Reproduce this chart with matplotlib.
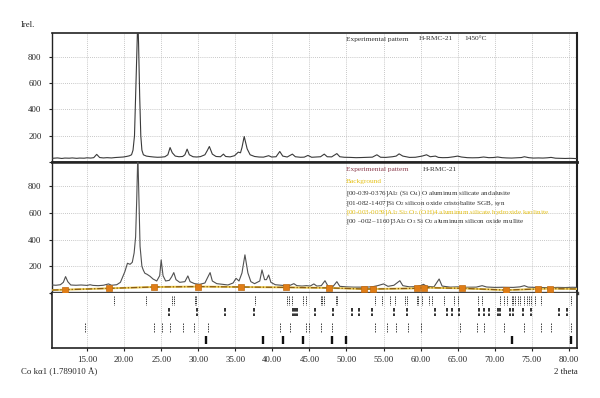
import matplotlib
matplotlib.use("Agg")
import matplotlib.pyplot as plt

plt.rcParams['font.family'] = ['Liberation Serif', 'DejaVu Serif']
plt.rcParams['mathtext.fontset'] = 'custom'
plt.rcParams['mathtext.rm'] = 'Liberation Serif'
plt.rcParams['mathtext.it'] = 'Liberation Serif:italic'

# ---------------- data ----------------
top_x = [10.3, 11.0, 11.6, 12.0, 12.6, 13.0, 13.6, 14.0, 14.6, 15.0, 15.5, 15.9, 16.3, 16.7, 17.2,
         17.7, 18.3, 18.8, 19.4, 19.9, 20.3, 20.7, 21.0, 21.2, 21.4, 21.6, 21.75, 21.85, 21.95,
         22.1, 22.25, 22.4, 22.6, 23.0, 23.5, 24.0, 24.5, 25.0, 25.5, 25.9, 26.2, 26.5, 26.9,
         27.4, 27.9, 28.2, 28.5, 28.8, 29.3, 29.8, 30.3, 30.9, 31.2, 31.5, 31.9, 32.4, 33.0,
         33.4, 33.7, 34.3, 34.9, 35.4, 35.7, 35.9, 36.2, 36.6, 37.0, 37.6, 38.2, 38.8, 39.5,
         39.9, 40.5, 41.0, 41.4, 42.0, 42.7, 43.1, 43.8, 44.3, 44.8, 45.3, 45.9, 46.5, 47.0,
         47.4, 48.0, 48.7, 49.1, 49.7, 50.5, 51.3, 52.0, 52.8, 53.5, 54.1, 54.6, 55.3, 56.2,
         56.7, 57.1, 57.6, 58.5, 59.3, 60.2, 60.8, 61.3, 62.0, 62.4, 63.0, 63.7, 64.5, 65.0,
         65.5, 66.3, 67.0, 67.8, 68.5, 69.2, 69.8, 70.4, 71.0, 71.6, 72.3, 73.0, 73.6, 74.0,
         74.6, 75.2, 75.9, 76.5, 77.1, 77.6, 78.2, 78.8, 79.5, 80.2, 81.1]
top_y = [28, 31, 27, 30, 29, 31, 28, 30, 29, 32, 30, 33, 58, 34, 31,
         33, 31, 34, 36, 38, 42, 47, 55, 90, 200, 600, 900, 1100, 900,
         500, 200, 90, 55, 45, 41, 38, 36, 37, 40, 55, 110, 70, 45,
         40, 42, 55, 98, 55, 40, 38, 41, 55, 85, 118, 60, 42, 40,
         60, 42, 39, 48, 75, 70, 110, 194, 100, 55, 42, 38, 37, 48,
         38, 40, 80, 45, 38, 60, 40, 36, 37, 50, 36, 38, 40, 60,
         40, 39, 64, 40, 36, 35, 33, 34, 36, 37, 55, 36, 35, 40,
         45, 62, 45, 35, 36, 45, 55, 40, 45, 35, 33, 34, 40, 45,
         38, 33, 32, 33, 38, 33, 34, 38, 33, 31, 30, 32, 34, 40,
         33, 30, 31, 30, 32, 35, 29, 28, 27, 28, 26]

bot_x = [10.3, 10.8, 11.4, 11.8, 12.1, 12.4, 12.8, 13.5, 14.2, 15.0, 15.4, 15.8, 16.5, 17.2,
         17.9, 18.3, 19.0, 19.5, 19.8, 20.1, 20.45, 20.8, 21.1, 21.35, 21.55, 21.7, 21.85, 22.0,
         22.15, 22.4, 22.6, 22.8, 23.1, 23.5, 23.9, 24.4, 24.8, 25.0, 25.25, 25.6, 26.1, 26.4,
         26.7, 27.0, 27.5, 28.2, 28.6, 28.9, 29.5, 30.2, 30.9, 31.3, 31.6, 31.9, 32.5, 33.3,
         34.0, 34.7, 35.1, 35.5, 35.9, 36.3, 36.7, 37.1, 37.6, 38.3, 38.6, 38.95, 39.2, 39.5,
         39.8, 40.4, 41.2, 41.8, 42.4, 42.9, 43.3, 44.0, 44.6, 45.1, 45.6, 46.0, 46.6, 47.1,
         47.5, 48.2, 48.7, 49.1, 50.0, 51.0, 52.0, 53.0, 53.6, 54.2, 55.0, 55.6, 56.4, 57.2,
         57.6, 58.5, 59.5, 60.0, 60.4, 60.8, 61.8, 62.5, 62.9, 64.0, 65.0, 66.0, 67.5, 68.3,
         68.9, 70.0, 71.0, 72.5, 73.4, 74.0, 74.5, 75.5, 76.5, 77.5, 78.5, 79.5, 80.5, 81.1]
bot_y = [60, 58, 62, 80, 123, 85, 60, 58, 60, 57, 62, 57, 55, 58,
         68, 58, 62, 80, 120, 160, 223, 215, 230, 300, 420, 700, 1050, 700,
         350, 200, 170, 148, 140, 125, 105, 90, 130, 248, 130, 90, 95, 120,
         153, 100, 80, 85, 128, 85, 70, 65, 75, 120, 153, 90, 70, 65,
         60, 75, 110, 90, 150, 286, 150, 85, 70, 90, 173, 100, 100, 135,
         80, 62, 58, 55, 58, 70, 55, 52, 55, 52, 68, 52, 55, 92,
         52, 50, 85, 50, 46, 44, 44, 45, 48, 55, 68, 50, 58, 92,
         55, 46, 48, 55, 65, 50, 46, 105, 52, 44, 46, 43, 44, 55,
         45, 42, 43, 42, 46, 55, 44, 42, 41, 40, 42, 41, 43, 42]

bg_x = [10.3, 12.0, 18.0, 24.0, 30.0, 35.8, 41.8, 47.7, 52.3, 53.6, 59.5, 60.5, 65.6, 71.5, 75.8, 77.4, 81.1]
bg_y = [22, 25, 35, 45, 48, 45, 42, 38, 30, 30, 35, 40, 35, 22, 30, 33, 30]

andalusite = [18.7, 22.9, 26.4, 26.7, 29.6, 29.75, 37.7, 42.0, 42.3, 42.6, 44.2, 44.6, 46.5,
              46.7, 46.9, 48.55, 48.75, 53.9, 54.8, 55.85, 56.5, 57.9, 58.1, 59.5, 59.65, 60.2,
              61.2, 61.5, 63.1, 64.5, 65.0, 67.7, 68.3, 70.7, 71.2, 71.7, 72.3, 72.5, 72.8,
              73.1, 73.4, 74.0, 74.4, 74.6, 74.9, 75.5, 76.3, 80.3]
cristobalite = [26.05, 29.85, 33.65, 37.5, 42.8, 43.05, 43.3, 45.7, 48.15, 50.8, 51.7, 53.5,
                56.4, 58.1, 62.0, 63.6, 64.3, 65.2, 67.9, 68.5, 69.2, 70.4, 70.7, 72.1, 72.5,
                73.8, 74.9, 78.7, 79.8]
kaolinite = [14.7, 24.05, 25.1, 26.2, 28.0, 29.45, 31.3, 41.05, 42.4, 44.55, 44.95, 46.6,
             48.1, 53.8, 55.45, 56.7, 58.3, 60.1, 65.3, 67.65, 68.6, 71.2, 73.9, 76.25, 77.6, 80.25]
mullite = [31.05, 38.7, 41.45, 44.15, 48.1, 49.97, 72.3, 80.25]

x_ticks = [15, 20, 25, 30, 35, 40, 45, 50, 55, 60, 65, 70, 75, 80]
x_ticklabels = ['%.2f' % v for v in x_ticks]
y_ticks = [0, 200, 400, 600, 800]
y_ticklabels = ['', '200', '400', '600', '800']

# ---------------- figure ----------------
W, H = 600, 398
fig = plt.figure(figsize=(6, 3.98), dpi=100)

left, width = 52 / W, 525 / W
ax1 = fig.add_axes([left, 1 - 162 / H, width, 129 / H])
ax2 = fig.add_axes([left, 1 - 293 / H, width, 131 / H])
ax3 = fig.add_axes([left, 1 - 348 / H, width, 55 / H])

XL = (10.27, 81.1)
curve_c = '#3a3a3a'
grid_kw = dict(color='#b5b5b5', linestyle=(0, (1, 1.5)), linewidth=0.6)

for ax in (ax1, ax2):
    ax.set_xlim(*XL)
    ax.set_ylim(0, 982)
    ax.set_xticks(x_ticks)
    ax.tick_params(axis='x', length=0, labelbottom=False)
    ax.set_yticks(y_ticks)
    ax.set_yticklabels(y_ticklabels)
    ax.tick_params(axis='y', length=2.5, width=0.8, pad=5, labelsize=6.3, colors='#222')
    ax.grid(True, **grid_kw)
    ax.set_axisbelow(True)
    for s in ax.spines.values():
        s.set_color('#222')
        s.set_linewidth(1.0)

ax1.plot(top_x, top_y, color=curve_c, lw=0.8, zorder=3)
ax1.spines['bottom'].set_linewidth(1.8)
ax1.spines['top'].set_linewidth(1.2)
ax1.spines['right'].set_linewidth(1.5)

ax2.plot(bot_x, bot_y, color='#505050', lw=0.8, zorder=3)
ax2.plot(bg_x, bg_y, color='#e9c84e', lw=1.4, zorder=4)
ax2.plot(bg_x, bg_y, color='#8a5a10', lw=0.9, linestyle=(0, (5, 1.5, 1, 1.5)), zorder=5)
ax2.plot(bg_x[1:-1], bg_y[1:-1], linestyle='none', marker='s', markersize=4.3,
         markerfacecolor='#e07d16', markeredgecolor='#c06a10', markeredgewidth=0.5, zorder=6)
ax2.spines['top'].set_linewidth(1.8)
ax2.spines['bottom'].set_linewidth(2.4)
ax2.spines['bottom'].set_color('#444')
ax2.spines['right'].set_linewidth(1.5)

# stick patterns
ax3.set_xlim(*XL)
ax3.set_ylim(55, 0)
ax3.set_yticks([])
ax3.set_xticks(x_ticks)
ax3.set_xticklabels(x_ticklabels)
ax3.tick_params(axis='x', length=2.5, width=0.8, pad=3, labelsize=6.3, colors='#222')
ax3.grid(True, axis='x', **grid_kw)
ax3.set_axisbelow(True)
ax3.spines['top'].set_visible(False)
for k in ('left', 'bottom', 'right'):
    ax3.spines[k].set_color('#222')
    ax3.spines[k].set_linewidth(1.2)

ax3.vlines(andalusite, 3, 12, colors='#333', linewidth=0.7, linestyles=[(0, (1.3, 0.9))])
ax3.vlines(cristobalite, 15, 23, colors='#222', linewidth=1.3, linestyles=[(0, (2, 1))])
ax3.vlines(kaolinite, 30, 39, colors='#444', linewidth=0.7, linestyles=[(0, (1.6, 1))])
ax3.vlines(mullite, 43, 51, colors='#111', linewidth=1.7)

# ---------------- texts ----------------
def t(x, y, s, **kw):
    kw.setdefault('fontsize', 5.1)
    kw.setdefault('color', '#333')
    kw.setdefault('va', 'center')
    kw.setdefault('ha', 'left')
    fig.text(x / W, 1 - y / H, s, **kw)

t(21, 25, 'Irel.', fontsize=6.3, color='#222')
t(346, 39, 'Experimental pattern', fontsize=5.3)
t(419, 39, 'H-RMC-21', fontsize=5.3)
t(464, 39, '1450°C', fontsize=5.3)

t(346, 170, 'Experimental pattern', color='#8c3d4e', fontsize=5.3)
t(423, 170, 'H-RMC-21', fontsize=5.3)
t(346, 182, 'Background', color='#e6c21a', fontsize=5.3)
t(346, 193, r'[00-039-0376]Al$_\mathrm{2}$ (Si O$_\mathrm{4}$) O aluminum silicate andalusite')
t(346, 203, r'[01-082-1407]Si O$_\mathrm{2}$ silicon oxide cristobalite SGB, syn')
t(346, 212, r'[00-003-0059]Al$_\mathrm{2}$ Si$_\mathrm{2}$ O$_\mathrm{5}$ (OH)4 aluminum silicate hydroxide kaolinite',
  color='#e6c21a')
t(346, 222, r'[00 –002–1160]3Al$_\mathrm{2}$ O$_\mathrm{3}$ Si O$_\mathrm{2}$ aluminum silicon oxide mullite')

t(21, 372, 'Co kα1 (1.789010 Å)', fontsize=6.3, color='#222')
t(578, 372, '2 theta', fontsize=6.3, color='#222', ha='right')

fig.savefig('out.png', dpi=100)
